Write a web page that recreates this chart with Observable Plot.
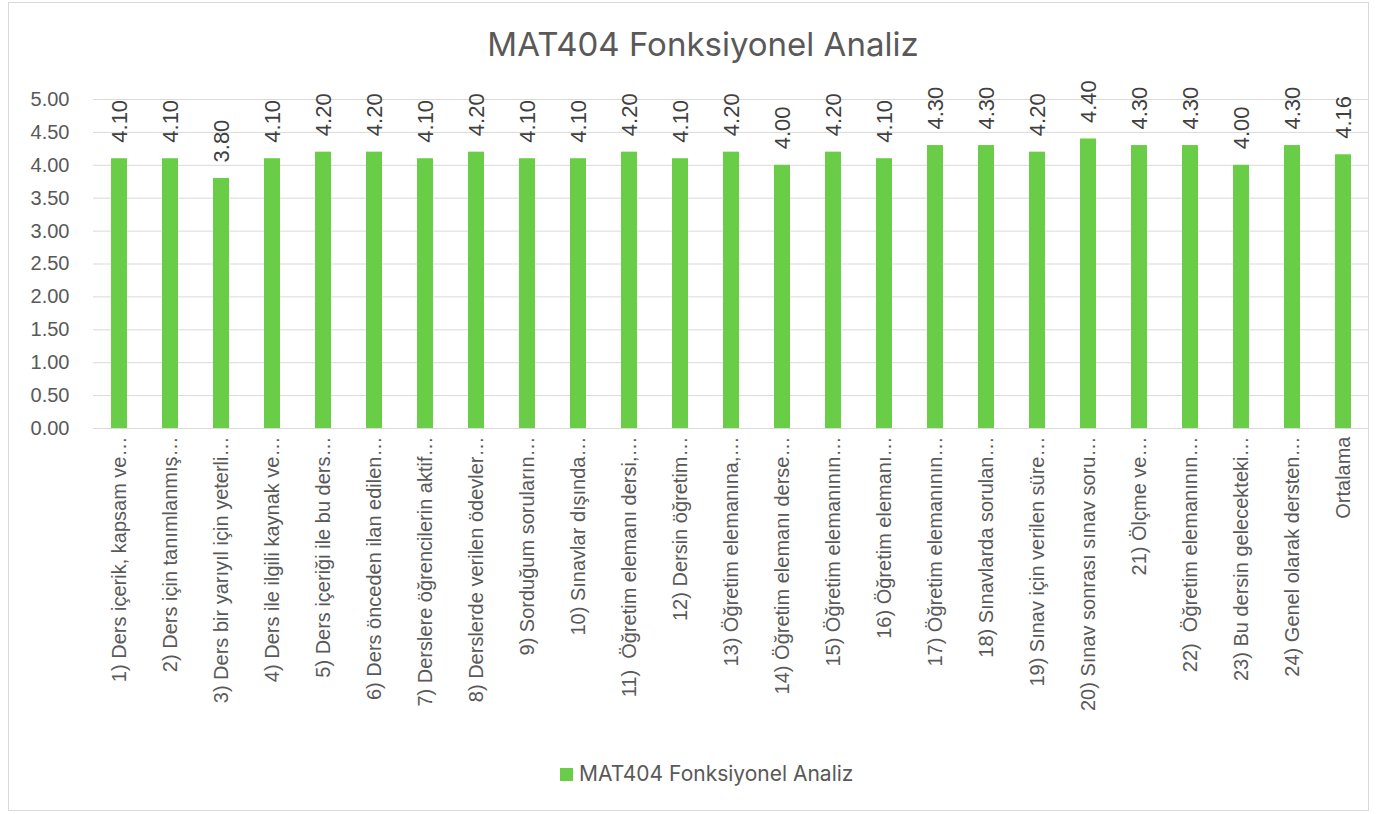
<!DOCTYPE html>
<html>
<head>
<meta charset="utf-8">
<script src="https://cdn.jsdelivr.net/npm/d3@7"></script>
<script src="https://cdn.jsdelivr.net/npm/@observablehq/plot@0.6"></script>
<style>
  html, body { margin: 0; padding: 0; background: #fff; }
  #frame { position: absolute; left: 8px; top: 2px; width: 1361px; height: 809px; border: 1px solid #d9d9d9; box-sizing: border-box; }
  #title { position: absolute; left: 0; top: 24px; width: 1406px; text-align: center; font-family: Inter, "Noto Sans", sans-serif; font-size: 33px; line-height: 40px; color: #595959; }
  #chart { position: absolute; left: 0; top: 80px; }
  #legend { position: absolute; left: 560px; top: 761px; font-family: Inter, "Noto Sans", sans-serif; font-size: 21px; line-height: 26px; color: #595959; display: flex; align-items: center; }
  #legend span.sw { display: inline-block; width: 13px; height: 13px; background: #6acd47; margin-right: 6px; }
</style>
</head>
<body>
<div id="frame"></div>
<div id="title">MAT404 Fonksiyonel Analiz</div>
<div id="chart"></div>
<div id="legend"><span class="sw"></span><span>MAT404 Fonksiyonel Analiz</span></div>
<script>
const categories = [
  "1) Ders içerik, kapsam ve…",
  "2) Ders için tanımlanmış…",
  "3) Ders bir yarıyıl için yeterli…",
  "4) Ders ile ilgili kaynak ve…",
  "5) Ders içeriği ile bu ders…",
  "6) Ders önceden ilan edilen…",
  "7) Derslere öğrencilerin aktif…",
  "8) Derslerde verilen ödevler…",
  "9) Sorduğum soruların…",
  "10) Sınavlar dışında…",
  "11)  Öğretim elemanı dersi,…",
  "12) Dersin öğretim…",
  "13) Öğretim elemanına,…",
  "14) Öğretim elemanı derse…",
  "15) Öğretim elemanının…",
  "16) Öğretim elemanı…",
  "17) Öğretim elemanının…",
  "18) Sınavlarda sorulan…",
  "19) Sınav için verilen süre…",
  "20) Sınav sonrası sınav soru…",
  "21) Ölçme ve…",
  "22)  Öğretim elemanının…",
  "23) Bu dersin gelecekteki…",
  "24) Genel olarak dersten…",
  "Ortalama"
];
const values = [4.10, 4.10, 3.80, 4.10, 4.20, 4.20, 4.10, 4.20, 4.10, 4.10, 4.20, 4.10, 4.20, 4.00, 4.20, 4.10, 4.30, 4.30, 4.20, 4.40, 4.30, 4.30, 4.00, 4.30, 4.16];
const yTicks = [0, 0.5, 1, 1.5, 2, 2.5, 3, 3.5, 4, 4.5, 5];

const data = categories.map((c, i) => ({category: c, value: values[i]}));

const chart = Plot.plot({
  width: 1377,
  height: 660,
  marginTop: 19,
  marginBottom: 312,
  marginLeft: 93,
  marginRight: 8,
  style: {fontFamily: "'Liberation Sans', Arial, sans-serif", fontSize: "20px", color: "#595959", background: "transparent"},
  x: {domain: categories, paddingInner: 0.68, paddingOuter: 0.34, label: null},
  y: {domain: [0, 5], label: null},
  marks: [
    Plot.ruleY(yTicks, {stroke: "#d9d9d9", strokeWidth: 1}),
    Plot.barY(data, {x: "category", y: "value", fill: "#6acd47"}),
    Plot.text(data, {x: "category", y: "value", text: d => d.value.toFixed(2), rotate: -90, textAnchor: "start", dy: -16, fill: "#404040", fontSize: 22}),
    Plot.axisY({ticks: yTicks, tickSize: 0, tickPadding: 24, tickFormat: d3.format(".2f"), fontSize: 20, fill: "#595959", label: null}),
    Plot.axisX({tickSize: 0, tickRotate: -90, tickPadding: 8, fontSize: 20, fill: "#595959", label: null, textOverflow: null})
  ]
});
document.getElementById("chart").appendChild(chart);
</script>
</body>
</html>
